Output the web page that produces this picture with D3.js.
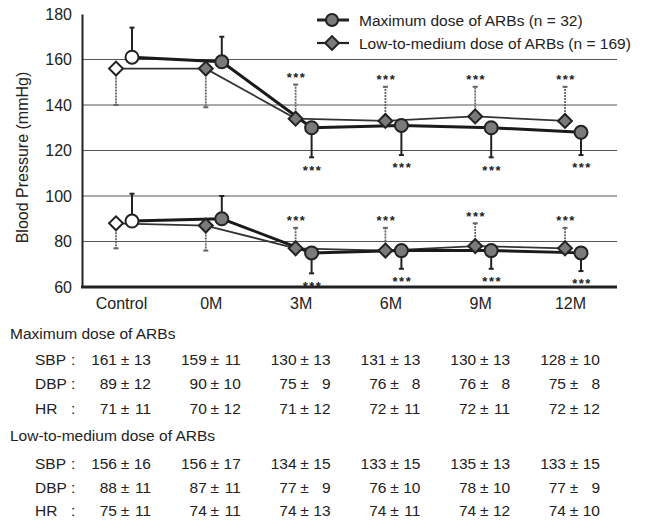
<!DOCTYPE html>
<html>
<head>
<meta charset="utf-8">
<script src="https://cdn.jsdelivr.net/npm/d3@7"></script>
<style>
  body { margin: 0; background: #fff; }
  svg { display: block; font-family: "Liberation Sans", Arial, Helvetica, sans-serif; }
</style>
</head>
<body>
<div id="chart"></div>
<script>
// Time points
const categories = ['Control', '0M', '3M', '6M', '9M', '12M'];

// Maximum dose of ARBs (n = 32)
const maxSBP = [161, 159, 130, 131, 130, 128];
const maxSBPsd = [13, 11, 13, 13, 13, 10];
const maxDBP = [89, 90, 75, 76, 76, 75];
const maxDBPsd = [12, 10, 9, 8, 8, 8];
const maxHR = [71, 70, 71, 72, 72, 72];
const maxHRsd = [11, 12, 12, 11, 11, 12];

// Low-to-medium dose of ARBs (n = 169)
const lowSBP = [156, 156, 134, 133, 135, 133];
const lowSBPsd = [16, 17, 15, 15, 13, 15];
const lowDBP = [88, 87, 77, 76, 78, 77];
const lowDBPsd = [11, 11, 9, 10, 10, 9];
const lowHR = [75, 74, 74, 74, 74, 74];
const lowHRsd = [11, 11, 13, 11, 12, 10];

// *** markers (vs 0M)
const significant = [false, false, true, true, true, true];
// which side the max-dose error bar is drawn on (low dose uses the other side)
const maxBarSide = [1, 1, -1, -1, -1, -1];

const yTicks = [60, 80, 100, 120, 140, 160, 180];
const gridValues = [80, 100, 120, 140, 160];

const width = 654, height = 521;
const plotLeft = 82, plotRight = 617;

const svg = d3.select('#chart')
    .append('svg')
    .attr('width', width)
    .attr('height', height);

const x = d3.scalePoint().domain(categories).range([121, 570]);
const y = d3.scaleLinear().domain([60, 180]).range([287, 14]);

const offMax = 11, offLow = -5; // markers sit side by side at each time point

// gridlines
svg.selectAll('.grid')
    .data(gridValues)
    .enter()
    .append('line')
    .attr('x1', plotLeft).attr('x2', plotRight)
    .attr('y1', d => y(d)).attr('y2', d => y(d))
    .attr('stroke', '#555')
    .attr('stroke-width', 1.2);

// y axis
const yAxis = svg.append('g')
    .attr('transform', `translate(${plotLeft},0)`)
    .call(d3.axisLeft(y).tickValues(yTicks).tickSize(0).tickPadding(10));
yAxis.select('.domain').attr('stroke', '#222').attr('stroke-width', 2);
yAxis.selectAll('text').style('font-size', '16px').attr('fill', '#222');

// x axis
const xAxis = svg.append('g')
    .attr('transform', `translate(0,${y(60)})`)
    .call(d3.axisBottom(x).tickSize(0).tickPadding(11));
xAxis.select('.domain').remove();
xAxis.selectAll('text').style('font-size', '16px').attr('fill', '#222');
svg.append('line')
    .attr('x1', plotLeft - 1).attr('x2', plotRight)
    .attr('y1', y(60)).attr('y2', y(60))
    .attr('stroke', '#222')
    .attr('stroke-width', 3);

// y axis title
svg.append('text')
    .attr('transform', `translate(22,${(y(60) + 20) / 2 + 4}) rotate(-90)`)
    .attr('text-anchor', 'middle')
    .attr('dominant-baseline', 'central')
    .style('font-size', '16px')
    .attr('fill', '#222')
    .text('Blood Pressure (mmHg)');

// build series for the plot
function series(values, sds, offset, sideSign, isMax) {
    return values.map((v, i) => ({
        cat: categories[i],
        i: i,
        v: v,
        sd: sds[i],
        cx: x(categories[i]) + offset,
        side: maxBarSide[i] * sideSign,
        isMax: isMax
    }));
}

const plotSeries = [
    series(lowSBP, lowSBPsd, offLow, -1, false),
    series(lowDBP, lowDBPsd, offLow, -1, false),
    series(maxSBP, maxSBPsd, offMax, 1, true),
    series(maxDBP, maxDBPsd, offMax, 1, true)
];

const line = d3.line().x(d => d.cx).y(d => y(d.v));

const diamond = d3.symbol().type(d3.symbolSquare).size(96);

plotSeries.forEach(s => {
    const isMax = s[0].isMax;

    // error bars
    const bars = svg.append('g');
    bars.selectAll('line.stem')
        .data(s)
        .enter()
        .append('line')
        .attr('x1', d => d.cx).attr('x2', d => d.cx)
        .attr('y1', d => y(d.v))
        .attr('y2', d => y(d.v + d.side * d.sd))
        .attr('stroke', isMax ? '#222' : '#666')
        .attr('stroke-width', isMax ? 2 : 1.8)
        .attr('stroke-dasharray', isMax ? null : '2,1');
    bars.selectAll('line.cap')
        .data(s)
        .enter()
        .append('line')
        .attr('x1', d => d.cx - 2.5).attr('x2', d => d.cx + 2.5)
        .attr('y1', d => y(d.v + d.side * d.sd))
        .attr('y2', d => y(d.v + d.side * d.sd))
        .attr('stroke', isMax ? '#222' : '#666')
        .attr('stroke-width', 2);

    // significance stars beyond the bar end
    bars.selectAll('text')
        .data(s.filter(d => significant[d.i]))
        .enter()
        .append('text')
        .attr('x', d => d.cx + 1)
        .attr('y', d => y(d.v + d.side * d.sd) - d.side * (d.side > 0 ? 11 : 9))
        .attr('text-anchor', 'middle')
        .attr('dominant-baseline', 'central')
        .attr('dy', '0.3em')
        .style('font-size', '13px')
        .style('font-weight', 'bold')
        .style('letter-spacing', '1.5px')
        .attr('fill', '#222')
        .text('***');
});

// connecting lines
plotSeries.forEach(s => {
    const isMax = s[0].isMax;
    svg.append('path')
        .datum(s)
        .attr('d', line)
        .attr('fill', 'none')
        .attr('stroke', isMax ? '#1a1a1a' : '#333')
        .attr('stroke-width', isMax ? 3 : 1.8);
});

// markers
plotSeries.forEach(s => {
    const isMax = s[0].isMax;
    const g = svg.append('g');
    if (isMax) {
        g.selectAll('circle')
            .data(s)
            .enter()
            .append('circle')
            .attr('cx', d => d.cx)
            .attr('cy', d => y(d.v))
            .attr('r', 6.5)
            .attr('fill', d => d.i === 0 ? '#fff' : '#7a7a7a')
            .attr('stroke', '#222')
            .attr('stroke-width', 2);
    } else {
        g.selectAll('path')
            .data(s)
            .enter()
            .append('path')
            .attr('d', diamond)
            .attr('transform', d => `translate(${d.cx},${y(d.v)}) rotate(45)`)
            .attr('fill', d => d.i === 0 ? '#fff' : '#7a7a7a')
            .attr('stroke', '#222')
            .attr('stroke-width', 2);
    }
});

// legend
const legendItems = [
    { label: 'Maximum dose of ARBs (n = 32)', isMax: true },
    { label: 'Low-to-medium dose of ARBs (n = 169)', isMax: false }
];
const legend = svg.append('g');
legendItems.forEach((item, k) => {
    const ly = 20 + k * 23;
    legend.append('line')
        .attr('x1', 317).attr('x2', 349)
        .attr('y1', ly).attr('y2', ly)
        .attr('stroke', '#222')
        .attr('stroke-width', item.isMax ? 3 : 2.2);
    if (item.isMax) {
        legend.append('circle')
            .attr('cx', 332).attr('cy', ly).attr('r', 6)
            .attr('fill', '#7a7a7a').attr('stroke', '#222').attr('stroke-width', 2);
    } else {
        legend.append('path')
            .attr('d', diamond)
            .attr('transform', `translate(332,${ly}) rotate(45)`)
            .attr('fill', '#7a7a7a').attr('stroke', '#222').attr('stroke-width', 2);
    }
    legend.append('text')
        .attr('x', 359).attr('y', ly)
        .attr('dominant-baseline', 'central')
        .style('font-size', '15.5px')
        .attr('fill', '#222')
        .text(item.label);
});

// table under the chart
const tableGroups = [
    {
        title: 'Maximum dose of ARBs', top: 333, rowY: [359, 383, 408],
        rows: [['SBP', maxSBP, maxSBPsd], ['DBP', maxDBP, maxDBPsd], ['HR', maxHR, maxHRsd]]
    },
    {
        title: 'Low-to-medium dose of ARBs', top: 435, rowY: [463, 487, 510],
        rows: [['SBP', lowSBP, lowSBPsd], ['DBP', lowDBP, lowDBPsd], ['HR', lowHR, lowHRsd]]
    }
];

const table = svg.append('g')
    .style('font-size', '15.5px')
    .attr('fill', '#222');

tableGroups.forEach(grp => {
    table.append('text')
        .attr('x', 10).attr('y', grp.top)
        .attr('dominant-baseline', 'central')
        .text(grp.title);
    grp.rows.forEach((row, r) => {
        const ry = grp.rowY[r];
        const rowG = table.append('g');
        rowG.append('text')
            .attr('x', 35).attr('y', ry)
            .attr('dominant-baseline', 'central')
            .text(row[0]);
        rowG.append('text')
            .attr('x', 71).attr('y', ry)
            .attr('dominant-baseline', 'central')
            .text(':');
        categories.forEach((c, i) => {
            const cx = x(c) + 4;
            rowG.append('text')
                .attr('x', cx - 8).attr('y', ry)
                .attr('text-anchor', 'end')
                .attr('dominant-baseline', 'central')
                .text(row[1][i]);
            rowG.append('text')
                .attr('x', cx).attr('y', ry)
                .attr('text-anchor', 'middle')
                .attr('dominant-baseline', 'central')
                .text('±');
            rowG.append('text')
                .attr('x', cx + 26).attr('y', ry)
                .attr('text-anchor', 'end')
                .attr('dominant-baseline', 'central')
                .text(row[2][i]);
        });
    });
});
</script>
</body>
</html>
